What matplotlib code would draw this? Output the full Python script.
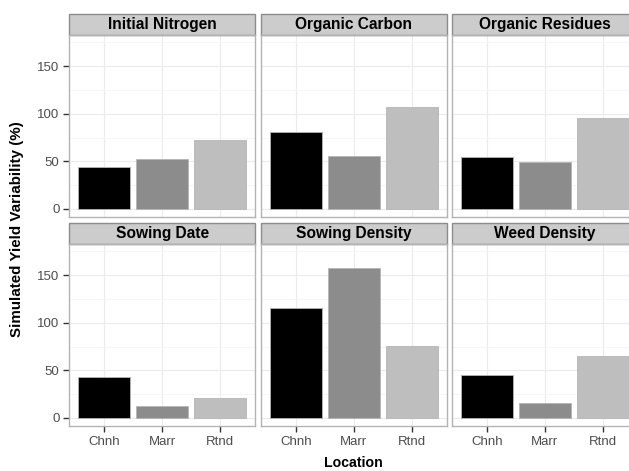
import numpy as np
import matplotlib
matplotlib.use("Agg")
import matplotlib.pyplot as plt
from matplotlib.patches import Rectangle

plt.rcParams['font.family'] = ['Liberation Sans', 'DejaVu Sans']

# data
locations = ['Chnh', 'Marr', 'Rtnd']
panels = ['Initial Nitrogen', 'Organic Carbon', 'Organic Residues',
          'Sowing Date', 'Sowing Density', 'Weed Density']
initial_nitrogen = [44.2, 52.9, 72.5]
organic_carbon = [81.3, 55.3, 107.3]
organic_residues = [54.7, 49.0, 95.3]
sowing_date = [43.0, 12.9, 21.0]
sowing_density = [115.0, 157.0, 75.1]
weed_density = [45.4, 15.3, 65.4]
values = [initial_nitrogen, organic_carbon, organic_residues,
          sowing_date, sowing_density, weed_density]
bar_colors = ['#000000', '#8c8c8c', '#bebebe']

W, H = 629, 471
fig = plt.figure(figsize=(W / 100, H / 100), dpi=100)

col_left = [69.3, 261.0, 452.0]
panel_w = 185.7
row_top = [35.0, 244.0]
panel_h = 182.0
strip_h = 21.0

x = np.arange(1, 4)
for i, name in enumerate(panels):
    r, c = divmod(i, 3)
    ax = fig.add_axes([col_left[c] / W, (H - row_top[r] - panel_h) / H,
                       panel_w / W, panel_h / H])
    ax.set_xlim(0.4, 3.6)
    ax.set_ylim(-8.4, 182.6)
    ax.set_yticks([0, 50, 100, 150])
    ax.set_yticks([25, 75, 125, 175], minor=True)
    ax.set_xticks(x)
    ax.grid(True, which='major', color='#ebebeb', lw=0.8)
    ax.grid(True, which='minor', axis='y', color='#f5f5f5', lw=0.6)
    ax.set_axisbelow(True)
    ax.bar(x, values[i], width=0.9, color=bar_colors,
           edgecolor='#b5b5b5', linewidth=0.6, zorder=3)
    for s in ax.spines.values():
        s.set_color('#b3b3b3')
        s.set_linewidth(1.0)
    ax.tick_params(which='minor', length=0)
    ax.tick_params(which='major', length=4, width=1, color='#333333',
                   labelsize=9.5, labelcolor='#4d4d4d', pad=3)
    if c == 0:
        ax.set_yticklabels(['0', '50', '100', '150'])
    else:
        ax.tick_params(axis='y', which='major', length=0, labelleft=False)
    if r == 1:
        ax.set_xticklabels(locations)
    else:
        ax.tick_params(axis='x', which='major', length=0, labelbottom=False)
    # facet strip
    ax.add_patch(Rectangle((0, 1), 1, strip_h / panel_h, transform=ax.transAxes,
                           facecolor='#cccccc', edgecolor='#8c8c8c', lw=1.0,
                           clip_on=False))
    ax.text(0.5, 1 + strip_h / panel_h / 2, name, transform=ax.transAxes,
            ha='center', va='center', fontsize=11.2, fontweight='bold')

fig.text(col_left[1] / W + panel_w / W / 2, 1 - 467 / H, 'Location',
         ha='center', va='baseline', fontsize=10.2, fontweight='bold')
fig.text(17 / W, 1 - 229 / H, 'Simulated Yield Variability (%)', rotation=90,
         ha='center', va='center', fontsize=10.9, fontweight='bold')

fig.savefig('out.png', dpi=100)
